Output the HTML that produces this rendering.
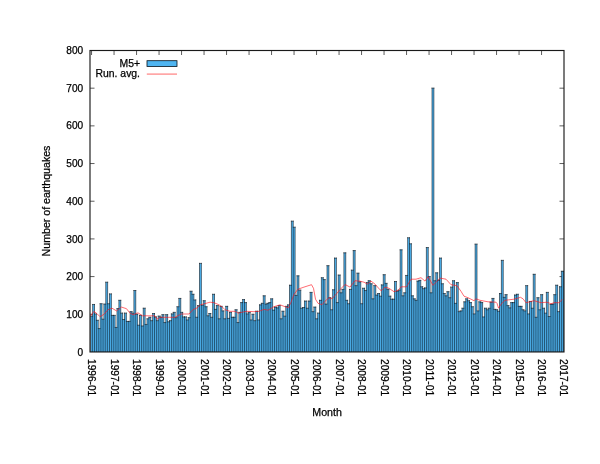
<!DOCTYPE html>
<html><head><meta charset="utf-8"><title>M5+ earthquakes per month</title>
<style>html,body{margin:0;padding:0;background:#fff;}body{width:600px;height:464px;overflow:hidden;font-family:"Liberation Sans",sans-serif;}svg text{font-family:"Liberation Sans",sans-serif;fill:#000;stroke:#000;stroke-width:0.25px;}</style>
</head><body>
<svg width="600" height="464" viewBox="0 0 600 464" style="display:block">
<rect x="0" y="0" width="600" height="464" fill="#ffffff"/>
<defs><clipPath id="c"><rect x="90.0" y="50.5" width="474.0" height="301.45"/></clipPath></defs>
<g stroke="#333" stroke-width="0.8" fill="none">
<path d="M90.0 314.27h4.5M564.0 314.27h-4.5"/>
<path d="M90.0 276.59h4.5M564.0 276.59h-4.5"/>
<path d="M90.0 238.91h4.5M564.0 238.91h-4.5"/>
<path d="M90.0 201.22h4.5M564.0 201.22h-4.5"/>
<path d="M90.0 163.54h4.5M564.0 163.54h-4.5"/>
<path d="M90.0 125.86h4.5M564.0 125.86h-4.5"/>
<path d="M90.0 88.18h4.5M564.0 88.18h-4.5"/>
<path d="M91.55 50.5v4.5"/>
<path d="M114.05 50.5v4.5"/>
<path d="M136.55 50.5v4.5"/>
<path d="M159.05 50.5v4.5"/>
<path d="M181.55 50.5v4.5"/>
<path d="M204.05 50.5v4.5"/>
<path d="M226.55 50.5v4.5"/>
<path d="M249.05 50.5v4.5"/>
<path d="M271.55 50.5v4.5"/>
<path d="M294.05 50.5v4.5"/>
<path d="M316.55 50.5v4.5"/>
<path d="M339.05 50.5v4.5"/>
<path d="M361.55 50.5v4.5"/>
<path d="M384.05 50.5v4.5"/>
<path d="M406.55 50.5v4.5"/>
<path d="M429.05 50.5v4.5"/>
<path d="M451.55 50.5v4.5"/>
<path d="M474.05 50.5v4.5"/>
<path d="M496.55 50.5v4.5"/>
<path d="M519.05 50.5v4.5"/>
<path d="M541.55 50.5v4.5"/>
</g>
<g clip-path="url(#c)">
<path fill="#4fb5f1" stroke="none" d="M90.763 351.95V316.15h1.875V351.95zM92.638 351.95V304.47h1.875V351.95zM94.513 351.95V313.89h1.875V351.95zM96.388 351.95V320.30h1.875V351.95zM98.263 351.95V328.59h1.875V351.95zM100.138 351.95V303.72h1.875V351.95zM102.013 351.95V319.17h1.875V351.95zM103.888 351.95V304.09h1.875V351.95zM105.763 351.95V282.24h1.875V351.95zM107.638 351.95V303.72h1.875V351.95zM109.513 351.95V293.92h1.875V351.95zM111.388 351.95V315.40h1.875V351.95zM113.263 351.95V315.40h1.875V351.95zM115.138 351.95V327.46h1.875V351.95zM117.013 351.95V308.62h1.875V351.95zM118.888 351.95V300.33h1.875V351.95zM120.763 351.95V313.14h1.875V351.95zM122.638 351.95V319.54h1.875V351.95zM124.513 351.95V313.14h1.875V351.95zM126.388 351.95V321.43h1.875V351.95zM128.262 351.95V321.43h1.875V351.95zM130.137 351.95V311.63h1.875V351.95zM132.012 351.95V313.14h1.875V351.95zM133.887 351.95V290.53h1.875V351.95zM135.762 351.95V314.27h1.875V351.95zM137.637 351.95V325.20h1.875V351.95zM139.512 351.95V315.40h1.875V351.95zM141.387 351.95V325.95h1.875V351.95zM143.262 351.95V308.24h1.875V351.95zM145.137 351.95V324.44h1.875V351.95zM147.012 351.95V318.79h1.875V351.95zM148.887 351.95V317.28h1.875V351.95zM150.762 351.95V320.67h1.875V351.95zM152.637 351.95V313.52h1.875V351.95zM154.512 351.95V316.91h1.875V351.95zM156.387 351.95V320.67h1.875V351.95zM158.262 351.95V316.15h1.875V351.95zM160.137 351.95V317.28h1.875V351.95zM162.012 351.95V314.65h1.875V351.95zM163.887 351.95V322.56h1.875V351.95zM165.762 351.95V314.65h1.875V351.95zM167.637 351.95V321.81h1.875V351.95zM169.512 351.95V320.67h1.875V351.95zM171.387 351.95V313.89h1.875V351.95zM173.262 351.95V312.38h1.875V351.95zM175.137 351.95V317.66h1.875V351.95zM177.012 351.95V306.73h1.875V351.95zM178.887 351.95V298.44h1.875V351.95zM180.762 351.95V312.38h1.875V351.95zM182.637 351.95V316.91h1.875V351.95zM184.512 351.95V316.91h1.875V351.95zM186.387 351.95V319.92h1.875V351.95zM188.262 351.95V317.66h1.875V351.95zM190.137 351.95V291.28h1.875V351.95zM192.012 351.95V294.30h1.875V351.95zM193.887 351.95V299.95h1.875V351.95zM195.762 351.95V317.28h1.875V351.95zM197.637 351.95V305.60h1.875V351.95zM199.512 351.95V263.40h1.875V351.95zM201.387 351.95V305.23h1.875V351.95zM203.262 351.95V300.70h1.875V351.95zM205.137 351.95V306.73h1.875V351.95zM207.012 351.95V315.78h1.875V351.95zM208.887 351.95V313.52h1.875V351.95zM210.762 351.95V317.28h1.875V351.95zM212.637 351.95V294.30h1.875V351.95zM214.512 351.95V309.37h1.875V351.95zM216.387 351.95V305.60h1.875V351.95zM218.262 351.95V318.79h1.875V351.95zM220.137 351.95V306.36h1.875V351.95zM222.012 351.95V310.88h1.875V351.95zM223.887 351.95V318.79h1.875V351.95zM225.762 351.95V306.36h1.875V351.95zM227.637 351.95V318.41h1.875V351.95zM229.512 351.95V312.38h1.875V351.95zM231.387 351.95V317.28h1.875V351.95zM233.262 351.95V317.28h1.875V351.95zM235.137 351.95V309.75h1.875V351.95zM237.012 351.95V322.56h1.875V351.95zM238.887 351.95V312.38h1.875V351.95zM240.762 351.95V302.59h1.875V351.95zM242.637 351.95V299.57h1.875V351.95zM244.512 351.95V302.59h1.875V351.95zM246.387 351.95V313.89h1.875V351.95zM248.262 351.95V312.38h1.875V351.95zM250.137 351.95V319.92h1.875V351.95zM252.012 351.95V314.27h1.875V351.95zM253.887 351.95V320.67h1.875V351.95zM255.762 351.95V311.25h1.875V351.95zM257.637 351.95V319.92h1.875V351.95zM259.512 351.95V304.85h1.875V351.95zM261.387 351.95V303.34h1.875V351.95zM263.262 351.95V295.80h1.875V351.95zM265.137 351.95V304.09h1.875V351.95zM267.012 351.95V303.34h1.875V351.95zM268.887 351.95V302.59h1.875V351.95zM270.762 351.95V298.82h1.875V351.95zM272.637 351.95V310.12h1.875V351.95zM274.512 351.95V307.11h1.875V351.95zM276.387 351.95V307.86h1.875V351.95zM278.262 351.95V305.60h1.875V351.95zM280.137 351.95V318.79h1.875V351.95zM282.012 351.95V311.25h1.875V351.95zM283.887 351.95V316.15h1.875V351.95zM285.762 351.95V306.36h1.875V351.95zM287.637 351.95V304.85h1.875V351.95zM289.512 351.95V285.25h1.875V351.95zM291.387 351.95V221.20h1.875V351.95zM293.262 351.95V227.23h1.875V351.95zM295.137 351.95V295.43h1.875V351.95zM297.012 351.95V275.83h1.875V351.95zM298.887 351.95V290.15h1.875V351.95zM300.762 351.95V308.24h1.875V351.95zM302.637 351.95V307.49h1.875V351.95zM304.512 351.95V301.08h1.875V351.95zM306.387 351.95V308.24h1.875V351.95zM308.262 351.95V301.08h1.875V351.95zM310.137 351.95V292.41h1.875V351.95zM312.012 351.95V311.63h1.875V351.95zM313.887 351.95V307.11h1.875V351.95zM315.762 351.95V318.79h1.875V351.95zM317.637 351.95V313.14h1.875V351.95zM319.512 351.95V300.33h1.875V351.95zM321.387 351.95V277.72h1.875V351.95zM323.262 351.95V279.60h1.875V351.95zM325.137 351.95V304.09h1.875V351.95zM327.012 351.95V265.66h1.875V351.95zM328.887 351.95V297.69h1.875V351.95zM330.762 351.95V309.75h1.875V351.95zM332.637 351.95V289.78h1.875V351.95zM334.512 351.95V258.12h1.875V351.95zM336.387 351.95V302.59h1.875V351.95zM338.262 351.95V275.08h1.875V351.95zM340.137 351.95V292.79h1.875V351.95zM342.012 351.95V289.40h1.875V351.95zM343.887 351.95V252.85h1.875V351.95zM345.762 351.95V300.33h1.875V351.95zM347.637 351.95V303.72h1.875V351.95zM349.512 351.95V289.40h1.875V351.95zM351.387 351.95V270.18h1.875V351.95zM353.262 351.95V250.59h1.875V351.95zM355.137 351.95V285.63h1.875V351.95zM357.012 351.95V273.20h1.875V351.95zM358.887 351.95V281.86h1.875V351.95zM360.762 351.95V303.72h1.875V351.95zM362.637 351.95V288.27h1.875V351.95zM364.512 351.95V290.53h1.875V351.95zM366.387 351.95V282.62h1.875V351.95zM368.262 351.95V280.73h1.875V351.95zM370.137 351.95V283.75h1.875V351.95zM372.012 351.95V298.82h1.875V351.95zM373.887 351.95V285.63h1.875V351.95zM375.762 351.95V295.05h1.875V351.95zM377.637 351.95V293.54h1.875V351.95zM379.512 351.95V296.18h1.875V351.95zM381.387 351.95V284.88h1.875V351.95zM383.262 351.95V274.70h1.875V351.95zM385.137 351.95V283.37h1.875V351.95zM387.012 351.95V289.40h1.875V351.95zM388.887 351.95V296.18h1.875V351.95zM390.762 351.95V299.20h1.875V351.95zM392.637 351.95V299.20h1.875V351.95zM394.512 351.95V281.49h1.875V351.95zM396.387 351.95V291.28h1.875V351.95zM398.262 351.95V290.15h1.875V351.95zM400.137 351.95V249.83h1.875V351.95zM402.012 351.95V295.80h1.875V351.95zM403.887 351.95V292.79h1.875V351.95zM405.762 351.95V275.46h1.875V351.95zM407.637 351.95V237.78h1.875V351.95zM409.512 351.95V243.80h1.875V351.95zM411.387 351.95V295.80h1.875V351.95zM413.262 351.95V298.82h1.875V351.95zM415.137 351.95V300.33h1.875V351.95zM417.012 351.95V281.11h1.875V351.95zM418.887 351.95V280.36h1.875V351.95zM420.762 351.95V286.76h1.875V351.95zM422.637 351.95V288.65h1.875V351.95zM424.512 351.95V287.89h1.875V351.95zM426.387 351.95V247.57h1.875V351.95zM428.262 351.95V276.59h1.875V351.95zM430.137 351.95V292.79h1.875V351.95zM432.012 351.95V88.18h1.875V351.95zM433.887 351.95V280.73h1.875V351.95zM435.762 351.95V272.82h1.875V351.95zM437.637 351.95V280.36h1.875V351.95zM439.512 351.95V258.12h1.875V351.95zM441.387 351.95V283.75h1.875V351.95zM443.262 351.95V293.54h1.875V351.95zM445.137 351.95V295.80h1.875V351.95zM447.012 351.95V291.66h1.875V351.95zM448.887 351.95V297.69h1.875V351.95zM450.762 351.95V287.14h1.875V351.95zM452.637 351.95V280.73h1.875V351.95zM454.512 351.95V303.34h1.875V351.95zM456.387 351.95V282.62h1.875V351.95zM458.262 351.95V311.63h1.875V351.95zM460.137 351.95V310.88h1.875V351.95zM462.012 351.95V308.24h1.875V351.95zM463.887 351.95V301.83h1.875V351.95zM465.762 351.95V298.82h1.875V351.95zM467.637 351.95V300.70h1.875V351.95zM469.512 351.95V302.59h1.875V351.95zM471.387 351.95V306.73h1.875V351.95zM473.262 351.95V313.89h1.875V351.95zM475.137 351.95V244.18h1.875V351.95zM477.012 351.95V310.88h1.875V351.95zM478.887 351.95V301.83h1.875V351.95zM480.762 351.95V302.59h1.875V351.95zM482.637 351.95V316.91h1.875V351.95zM484.512 351.95V308.24h1.875V351.95zM486.387 351.95V309.75h1.875V351.95zM488.262 351.95V308.24h1.875V351.95zM490.137 351.95V302.21h1.875V351.95zM492.012 351.95V298.44h1.875V351.95zM493.887 351.95V309.37h1.875V351.95zM495.762 351.95V309.75h1.875V351.95zM497.637 351.95V311.25h1.875V351.95zM499.512 351.95V293.54h1.875V351.95zM501.387 351.95V260.38h1.875V351.95zM503.262 351.95V297.31h1.875V351.95zM505.137 351.95V294.67h1.875V351.95zM507.012 351.95V305.60h1.875V351.95zM508.887 351.95V307.86h1.875V351.95zM510.762 351.95V302.59h1.875V351.95zM512.638 351.95V302.59h1.875V351.95zM514.513 351.95V295.05h1.875V351.95zM516.388 351.95V294.30h1.875V351.95zM518.263 351.95V306.36h1.875V351.95zM520.138 351.95V306.36h1.875V351.95zM522.013 351.95V309.75h1.875V351.95zM523.888 351.95V310.88h1.875V351.95zM525.763 351.95V285.63h1.875V351.95zM527.638 351.95V313.89h1.875V351.95zM529.513 351.95V301.46h1.875V351.95zM531.388 351.95V308.24h1.875V351.95zM533.263 351.95V274.33h1.875V351.95zM535.138 351.95V317.28h1.875V351.95zM537.013 351.95V297.69h1.875V351.95zM538.888 351.95V309.75h1.875V351.95zM540.763 351.95V294.67h1.875V351.95zM542.638 351.95V308.24h1.875V351.95zM544.513 351.95V313.14h1.875V351.95zM546.388 351.95V292.41h1.875V351.95zM548.263 351.95V316.53h1.875V351.95zM550.138 351.95V304.47h1.875V351.95zM552.013 351.95V304.09h1.875V351.95zM553.888 351.95V294.67h1.875V351.95zM555.763 351.95V285.25h1.875V351.95zM557.638 351.95V311.63h1.875V351.95zM559.513 351.95V286.76h1.875V351.95zM561.388 351.95V271.31h1.875V351.95zM563.263 351.95V271.31h1.875V351.95z"/>
<path fill="none" stroke="#06121c" stroke-width="0.58" stroke-linecap="square" d="M90.763 351.95V316.15M92.638 351.95V304.47M94.513 351.95V304.47M96.388 351.95V313.89M98.263 351.95V320.30M100.138 351.95V303.72M102.013 351.95V303.72M103.888 351.95V304.09M105.763 351.95V282.24M107.638 351.95V282.24M109.513 351.95V293.92M111.388 351.95V293.92M113.263 351.95V315.40M115.138 351.95V315.40M117.013 351.95V308.62M118.888 351.95V300.33M120.763 351.95V300.33M122.638 351.95V313.14M124.513 351.95V313.14M126.388 351.95V313.14M128.262 351.95V321.43M130.137 351.95V311.63M132.012 351.95V311.63M133.887 351.95V290.53M135.762 351.95V290.53M137.637 351.95V314.27M139.512 351.95V315.40M141.387 351.95V315.40M143.262 351.95V308.24M145.137 351.95V308.24M147.012 351.95V318.79M148.887 351.95V317.28M150.762 351.95V317.28M152.637 351.95V313.52M154.512 351.95V313.52M156.387 351.95V316.91M158.262 351.95V316.15M160.137 351.95V316.15M162.012 351.95V314.65M163.887 351.95V314.65M165.762 351.95V314.65M167.637 351.95V314.65M169.512 351.95V320.67M171.387 351.95V313.89M173.262 351.95V312.38M175.137 351.95V312.38M177.012 351.95V306.73M178.887 351.95V298.44M180.762 351.95V298.44M182.637 351.95V312.38M184.512 351.95V316.91M186.387 351.95V316.91M188.262 351.95V317.66M190.137 351.95V291.28M192.012 351.95V291.28M193.887 351.95V294.30M195.762 351.95V299.95M197.637 351.95V305.60M199.512 351.95V263.40M201.387 351.95V263.40M203.262 351.95V300.70M205.137 351.95V300.70M207.012 351.95V306.73M208.887 351.95V313.52M210.762 351.95V313.52M212.637 351.95V294.30M214.512 351.95V294.30M216.387 351.95V305.60M218.262 351.95V305.60M220.137 351.95V306.36M222.012 351.95V306.36M223.887 351.95V310.88M225.762 351.95V306.36M227.637 351.95V306.36M229.512 351.95V312.38M231.387 351.95V312.38M233.262 351.95V317.28M235.137 351.95V309.75M237.012 351.95V309.75M238.887 351.95V312.38M240.762 351.95V302.59M242.637 351.95V299.57M244.512 351.95V299.57M246.387 351.95V302.59M248.262 351.95V312.38M250.137 351.95V312.38M252.012 351.95V314.27M253.887 351.95V314.27M255.762 351.95V311.25M257.637 351.95V311.25M259.512 351.95V304.85M261.387 351.95V303.34M263.262 351.95V295.80M265.137 351.95V295.80M267.012 351.95V303.34M268.887 351.95V302.59M270.762 351.95V298.82M272.637 351.95V298.82M274.512 351.95V307.11M276.387 351.95V307.11M278.262 351.95V305.60M280.137 351.95V305.60M282.012 351.95V311.25M283.887 351.95V311.25M285.762 351.95V306.36M287.637 351.95V304.85M289.512 351.95V285.25M291.387 351.95V221.20M293.262 351.95V221.20M295.137 351.95V227.23M297.012 351.95V275.83M298.887 351.95V275.83M300.762 351.95V290.15M302.637 351.95V307.49M304.512 351.95V301.08M306.387 351.95V301.08M308.262 351.95V301.08M310.137 351.95V292.41M312.012 351.95V292.41M313.887 351.95V307.11M315.762 351.95V307.11M317.637 351.95V313.14M319.512 351.95V300.33M321.387 351.95V277.72M323.262 351.95V277.72M325.137 351.95V279.60M327.012 351.95V265.66M328.887 351.95V265.66M330.762 351.95V297.69M332.637 351.95V289.78M334.512 351.95V258.12M336.387 351.95V258.12M338.262 351.95V275.08M340.137 351.95V275.08M342.012 351.95V289.40M343.887 351.95V252.85M345.762 351.95V252.85M347.637 351.95V300.33M349.512 351.95V289.40M351.387 351.95V270.18M353.262 351.95V250.59M355.137 351.95V250.59M357.012 351.95V273.20M358.887 351.95V273.20M360.762 351.95V281.86M362.637 351.95V288.27M364.512 351.95V288.27M366.387 351.95V282.62M368.262 351.95V280.73M370.137 351.95V280.73M372.012 351.95V283.75M373.887 351.95V285.63M375.762 351.95V285.63M377.637 351.95V293.54M379.512 351.95V293.54M381.387 351.95V284.88M383.262 351.95V274.70M385.137 351.95V274.70M387.012 351.95V283.37M388.887 351.95V289.40M390.762 351.95V296.18M392.637 351.95V299.20M394.512 351.95V281.49M396.387 351.95V281.49M398.262 351.95V290.15M400.137 351.95V249.83M402.012 351.95V249.83M403.887 351.95V292.79M405.762 351.95V275.46M407.637 351.95V237.78M409.512 351.95V237.78M411.387 351.95V243.80M413.262 351.95V295.80M415.137 351.95V298.82M417.012 351.95V281.11M418.887 351.95V280.36M420.762 351.95V280.36M422.637 351.95V286.76M424.512 351.95V287.89M426.387 351.95V247.57M428.262 351.95V247.57M430.137 351.95V276.59M432.012 351.95V88.18M433.887 351.95V88.18M435.762 351.95V272.82M437.637 351.95V272.82M439.512 351.95V258.12M441.387 351.95V258.12M443.262 351.95V283.75M445.137 351.95V293.54M447.012 351.95V291.66M448.887 351.95V291.66M450.762 351.95V287.14M452.637 351.95V280.73M454.512 351.95V280.73M456.387 351.95V282.62M458.262 351.95V282.62M460.137 351.95V310.88M462.012 351.95V308.24M463.887 351.95V301.83M465.762 351.95V298.82M467.637 351.95V298.82M469.512 351.95V300.70M471.387 351.95V302.59M473.262 351.95V306.73M475.137 351.95V244.18M477.012 351.95V244.18M478.887 351.95V301.83M480.762 351.95V301.83M482.637 351.95V302.59M484.512 351.95V308.24M486.387 351.95V308.24M488.262 351.95V308.24M490.137 351.95V302.21M492.012 351.95V298.44M493.887 351.95V298.44M495.762 351.95V309.37M497.637 351.95V309.75M499.512 351.95V293.54M501.387 351.95V260.38M503.262 351.95V260.38M505.137 351.95V294.67M507.012 351.95V294.67M508.887 351.95V305.60M510.762 351.95V302.59M512.638 351.95V302.59M514.513 351.95V295.05M516.388 351.95V294.30M518.263 351.95V294.30M520.138 351.95V306.36M522.013 351.95V306.36M523.888 351.95V309.75M525.763 351.95V285.63M527.638 351.95V285.63M529.513 351.95V301.46M531.388 351.95V301.46M533.263 351.95V274.33M535.138 351.95V274.33M537.013 351.95V297.69M538.888 351.95V297.69M540.763 351.95V294.67M542.638 351.95V294.67M544.513 351.95V308.24M546.388 351.95V292.41M548.263 351.95V292.41M550.138 351.95V304.47M552.013 351.95V304.09M553.888 351.95V294.67M555.763 351.95V285.25M557.638 351.95V285.25M559.513 351.95V286.76M561.388 351.95V271.31M563.263 351.95V271.31M565.138 351.95V271.31M90.763 316.15h1.875M92.638 304.47h1.875M94.513 313.89h1.875M96.388 320.30h1.875M98.263 328.59h1.875M100.138 303.72h1.875M102.013 319.17h1.875M103.888 304.09h1.875M105.763 282.24h1.875M107.638 303.72h1.875M109.513 293.92h1.875M111.388 315.40h1.875M113.263 315.40h1.875M115.138 327.46h1.875M117.013 308.62h1.875M118.888 300.33h1.875M120.763 313.14h1.875M122.638 319.54h1.875M124.513 313.14h1.875M126.388 321.43h1.875M128.262 321.43h1.875M130.137 311.63h1.875M132.012 313.14h1.875M133.887 290.53h1.875M135.762 314.27h1.875M137.637 325.20h1.875M139.512 315.40h1.875M141.387 325.95h1.875M143.262 308.24h1.875M145.137 324.44h1.875M147.012 318.79h1.875M148.887 317.28h1.875M150.762 320.67h1.875M152.637 313.52h1.875M154.512 316.91h1.875M156.387 320.67h1.875M158.262 316.15h1.875M160.137 317.28h1.875M162.012 314.65h1.875M163.887 322.56h1.875M165.762 314.65h1.875M167.637 321.81h1.875M169.512 320.67h1.875M171.387 313.89h1.875M173.262 312.38h1.875M175.137 317.66h1.875M177.012 306.73h1.875M178.887 298.44h1.875M180.762 312.38h1.875M182.637 316.91h1.875M184.512 316.91h1.875M186.387 319.92h1.875M188.262 317.66h1.875M190.137 291.28h1.875M192.012 294.30h1.875M193.887 299.95h1.875M195.762 317.28h1.875M197.637 305.60h1.875M199.512 263.40h1.875M201.387 305.23h1.875M203.262 300.70h1.875M205.137 306.73h1.875M207.012 315.78h1.875M208.887 313.52h1.875M210.762 317.28h1.875M212.637 294.30h1.875M214.512 309.37h1.875M216.387 305.60h1.875M218.262 318.79h1.875M220.137 306.36h1.875M222.012 310.88h1.875M223.887 318.79h1.875M225.762 306.36h1.875M227.637 318.41h1.875M229.512 312.38h1.875M231.387 317.28h1.875M233.262 317.28h1.875M235.137 309.75h1.875M237.012 322.56h1.875M238.887 312.38h1.875M240.762 302.59h1.875M242.637 299.57h1.875M244.512 302.59h1.875M246.387 313.89h1.875M248.262 312.38h1.875M250.137 319.92h1.875M252.012 314.27h1.875M253.887 320.67h1.875M255.762 311.25h1.875M257.637 319.92h1.875M259.512 304.85h1.875M261.387 303.34h1.875M263.262 295.80h1.875M265.137 304.09h1.875M267.012 303.34h1.875M268.887 302.59h1.875M270.762 298.82h1.875M272.637 310.12h1.875M274.512 307.11h1.875M276.387 307.86h1.875M278.262 305.60h1.875M280.137 318.79h1.875M282.012 311.25h1.875M283.887 316.15h1.875M285.762 306.36h1.875M287.637 304.85h1.875M289.512 285.25h1.875M291.387 221.20h1.875M293.262 227.23h1.875M295.137 295.43h1.875M297.012 275.83h1.875M298.887 290.15h1.875M300.762 308.24h1.875M302.637 307.49h1.875M304.512 301.08h1.875M306.387 308.24h1.875M308.262 301.08h1.875M310.137 292.41h1.875M312.012 311.63h1.875M313.887 307.11h1.875M315.762 318.79h1.875M317.637 313.14h1.875M319.512 300.33h1.875M321.387 277.72h1.875M323.262 279.60h1.875M325.137 304.09h1.875M327.012 265.66h1.875M328.887 297.69h1.875M330.762 309.75h1.875M332.637 289.78h1.875M334.512 258.12h1.875M336.387 302.59h1.875M338.262 275.08h1.875M340.137 292.79h1.875M342.012 289.40h1.875M343.887 252.85h1.875M345.762 300.33h1.875M347.637 303.72h1.875M349.512 289.40h1.875M351.387 270.18h1.875M353.262 250.59h1.875M355.137 285.63h1.875M357.012 273.20h1.875M358.887 281.86h1.875M360.762 303.72h1.875M362.637 288.27h1.875M364.512 290.53h1.875M366.387 282.62h1.875M368.262 280.73h1.875M370.137 283.75h1.875M372.012 298.82h1.875M373.887 285.63h1.875M375.762 295.05h1.875M377.637 293.54h1.875M379.512 296.18h1.875M381.387 284.88h1.875M383.262 274.70h1.875M385.137 283.37h1.875M387.012 289.40h1.875M388.887 296.18h1.875M390.762 299.20h1.875M392.637 299.20h1.875M394.512 281.49h1.875M396.387 291.28h1.875M398.262 290.15h1.875M400.137 249.83h1.875M402.012 295.80h1.875M403.887 292.79h1.875M405.762 275.46h1.875M407.637 237.78h1.875M409.512 243.80h1.875M411.387 295.80h1.875M413.262 298.82h1.875M415.137 300.33h1.875M417.012 281.11h1.875M418.887 280.36h1.875M420.762 286.76h1.875M422.637 288.65h1.875M424.512 287.89h1.875M426.387 247.57h1.875M428.262 276.59h1.875M430.137 292.79h1.875M432.012 88.18h1.875M433.887 280.73h1.875M435.762 272.82h1.875M437.637 280.36h1.875M439.512 258.12h1.875M441.387 283.75h1.875M443.262 293.54h1.875M445.137 295.80h1.875M447.012 291.66h1.875M448.887 297.69h1.875M450.762 287.14h1.875M452.637 280.73h1.875M454.512 303.34h1.875M456.387 282.62h1.875M458.262 311.63h1.875M460.137 310.88h1.875M462.012 308.24h1.875M463.887 301.83h1.875M465.762 298.82h1.875M467.637 300.70h1.875M469.512 302.59h1.875M471.387 306.73h1.875M473.262 313.89h1.875M475.137 244.18h1.875M477.012 310.88h1.875M478.887 301.83h1.875M480.762 302.59h1.875M482.637 316.91h1.875M484.512 308.24h1.875M486.387 309.75h1.875M488.262 308.24h1.875M490.137 302.21h1.875M492.012 298.44h1.875M493.887 309.37h1.875M495.762 309.75h1.875M497.637 311.25h1.875M499.512 293.54h1.875M501.387 260.38h1.875M503.262 297.31h1.875M505.137 294.67h1.875M507.012 305.60h1.875M508.887 307.86h1.875M510.762 302.59h1.875M512.638 302.59h1.875M514.513 295.05h1.875M516.388 294.30h1.875M518.263 306.36h1.875M520.138 306.36h1.875M522.013 309.75h1.875M523.888 310.88h1.875M525.763 285.63h1.875M527.638 313.89h1.875M529.513 301.46h1.875M531.388 308.24h1.875M533.263 274.33h1.875M535.138 317.28h1.875M537.013 297.69h1.875M538.888 309.75h1.875M540.763 294.67h1.875M542.638 308.24h1.875M544.513 313.14h1.875M546.388 292.41h1.875M548.263 316.53h1.875M550.138 304.47h1.875M552.013 304.09h1.875M553.888 294.67h1.875M555.763 285.25h1.875M557.638 311.63h1.875M559.513 286.76h1.875M561.388 271.31h1.875M563.263 271.31h1.875"/>
</g>
<polyline clip-path="url(#c)" points="90.0,316.7 94.0,311.3 97.0,313.7 100.0,316.7 104.0,314.3 108.0,309.7 112.0,308.2 116.5,310.9 121.5,307.1 126.5,308.7 130.0,313.2 133.0,314.7 138.0,312.8 142.5,315.8 148.0,315.8 155.0,315.8 157.0,319.2 160.0,317.3 175.0,317.3 181.0,314.0 189.0,314.0 193.0,309.7 197.0,307.9 200.5,304.8 206.0,303.3 210.0,302.2 214.0,302.7 219.0,304.8 222.5,307.2 225.0,309.7 230.0,311.3 235.0,311.3 238.5,313.2 242.0,312.2 247.0,311.3 254.0,311.7 259.0,311.3 264.0,309.4 268.0,310.2 274.0,306.7 280.0,304.8 285.0,306.7 288.5,307.7 291.0,302.2 294.0,294.3 298.0,289.2 304.0,287.1 311.5,284.7 313.5,288.3 315.5,299.2 318.0,303.3 322.0,304.7 325.0,301.2 329.0,297.7 332.0,298.8 337.0,293.2 341.0,288.6 345.0,284.5 350.0,287.1 355.0,280.7 360.0,281.2 364.0,282.2 367.5,284.1 371.0,281.1 375.0,284.1 380.0,289.8 381.5,290.7 385.0,287.1 389.0,288.3 394.0,291.7 398.5,290.2 401.0,286.8 406.5,286.8 411.0,279.2 416.0,279.2 421.0,277.7 425.0,281.1 428.0,276.7 433.0,285.3 438.0,280.2 440.0,278.1 446.0,279.2 451.0,284.7 457.0,285.7 461.0,291.3 464.0,296.2 468.0,297.7 474.0,300.7 476.0,298.8 480.0,300.3 488.0,301.8 496.0,302.2 497.0,303.3 498.5,308.2 501.0,304.2 505.0,300.3 514.0,299.2 520.5,297.3 523.0,298.8 526.0,302.7 534.0,300.7 541.0,302.7 547.0,302.2 551.0,303.7 554.0,302.7 559.0,302.7 560.5,301.5 562.0,299.2" fill="none" stroke="#ff1420" stroke-opacity="0.7" stroke-width="0.9" stroke-linejoin="round"/>
<rect x="90.0" y="50.5" width="474.0" height="301.45" fill="none" stroke="#1a1a1a" stroke-width="1.15"/>
<g style="filter:grayscale(1)">
<text x="83.2" y="355.55" text-anchor="end" font-size="10.1"  >0</text>
<text x="83.2" y="317.87" text-anchor="end" font-size="10.1"  >100</text>
<text x="83.2" y="280.19" text-anchor="end" font-size="10.1"  >200</text>
<text x="83.2" y="242.51" text-anchor="end" font-size="10.1"  >300</text>
<text x="83.2" y="204.82" text-anchor="end" font-size="10.1"  >400</text>
<text x="83.2" y="167.14" text-anchor="end" font-size="10.1"  >500</text>
<text x="83.2" y="129.46" text-anchor="end" font-size="10.1"  >600</text>
<text x="83.2" y="91.78" text-anchor="end" font-size="10.1"  >700</text>
<text x="83.2" y="54.10" text-anchor="end" font-size="10.1"  >800</text>
<text transform="translate(88.30 359.0) rotate(90)" font-size="10.4" textLength="37.2" lengthAdjust="spacingAndGlyphs"  >1996-01</text>
<text transform="translate(110.78 359.0) rotate(90)" font-size="10.4" textLength="37.2" lengthAdjust="spacingAndGlyphs"  >1997-01</text>
<text transform="translate(133.27 359.0) rotate(90)" font-size="10.4" textLength="37.2" lengthAdjust="spacingAndGlyphs"  >1998-01</text>
<text transform="translate(155.75 359.0) rotate(90)" font-size="10.4" textLength="37.2" lengthAdjust="spacingAndGlyphs"  >1999-01</text>
<text transform="translate(178.24 359.0) rotate(90)" font-size="10.4" textLength="37.2" lengthAdjust="spacingAndGlyphs"  >2000-01</text>
<text transform="translate(200.73 359.0) rotate(90)" font-size="10.4" textLength="37.2" lengthAdjust="spacingAndGlyphs"  >2001-01</text>
<text transform="translate(223.21 359.0) rotate(90)" font-size="10.4" textLength="37.2" lengthAdjust="spacingAndGlyphs"  >2002-01</text>
<text transform="translate(245.69 359.0) rotate(90)" font-size="10.4" textLength="37.2" lengthAdjust="spacingAndGlyphs"  >2003-01</text>
<text transform="translate(268.18 359.0) rotate(90)" font-size="10.4" textLength="37.2" lengthAdjust="spacingAndGlyphs"  >2004-01</text>
<text transform="translate(290.67 359.0) rotate(90)" font-size="10.4" textLength="37.2" lengthAdjust="spacingAndGlyphs"  >2005-01</text>
<text transform="translate(313.15 359.0) rotate(90)" font-size="10.4" textLength="37.2" lengthAdjust="spacingAndGlyphs"  >2006-01</text>
<text transform="translate(335.63 359.0) rotate(90)" font-size="10.4" textLength="37.2" lengthAdjust="spacingAndGlyphs"  >2007-01</text>
<text transform="translate(358.12 359.0) rotate(90)" font-size="10.4" textLength="37.2" lengthAdjust="spacingAndGlyphs"  >2008-01</text>
<text transform="translate(380.61 359.0) rotate(90)" font-size="10.4" textLength="37.2" lengthAdjust="spacingAndGlyphs"  >2009-01</text>
<text transform="translate(403.09 359.0) rotate(90)" font-size="10.4" textLength="37.2" lengthAdjust="spacingAndGlyphs"  >2010-01</text>
<text transform="translate(425.57 359.0) rotate(90)" font-size="10.4" textLength="37.2" lengthAdjust="spacingAndGlyphs"  >2011-01</text>
<text transform="translate(448.06 359.0) rotate(90)" font-size="10.4" textLength="37.2" lengthAdjust="spacingAndGlyphs"  >2012-01</text>
<text transform="translate(470.55 359.0) rotate(90)" font-size="10.4" textLength="37.2" lengthAdjust="spacingAndGlyphs"  >2013-01</text>
<text transform="translate(493.03 359.0) rotate(90)" font-size="10.4" textLength="37.2" lengthAdjust="spacingAndGlyphs"  >2014-01</text>
<text transform="translate(515.51 359.0) rotate(90)" font-size="10.4" textLength="37.2" lengthAdjust="spacingAndGlyphs"  >2015-01</text>
<text transform="translate(538.00 359.0) rotate(90)" font-size="10.4" textLength="37.2" lengthAdjust="spacingAndGlyphs"  >2016-01</text>
<text transform="translate(560.48 359.0) rotate(90)" font-size="10.4" textLength="37.2" lengthAdjust="spacingAndGlyphs"  >2017-01</text>
<text transform="translate(49.9 256.4) rotate(-90)" font-size="10.4" textLength="110.8" lengthAdjust="spacingAndGlyphs"  >Number of earthquakes</text>
<text x="312.3" y="416" font-size="10.4" textLength="29.6" lengthAdjust="spacingAndGlyphs"  >Month</text>
<text x="140" y="66.8" text-anchor="end" font-size="10.4"  >M5+</text>
<text x="140" y="77.3" text-anchor="end" font-size="10.4"  >Run. avg.</text>
</g>
<rect x="147" y="60.7" width="30" height="5.8" fill="#4fb5f1" stroke="#06121c" stroke-width="0.8"/>
<path d="M146.8 74.1H177" stroke="#ff8a8a" stroke-width="1.3"/>
</svg>
</body></html>
